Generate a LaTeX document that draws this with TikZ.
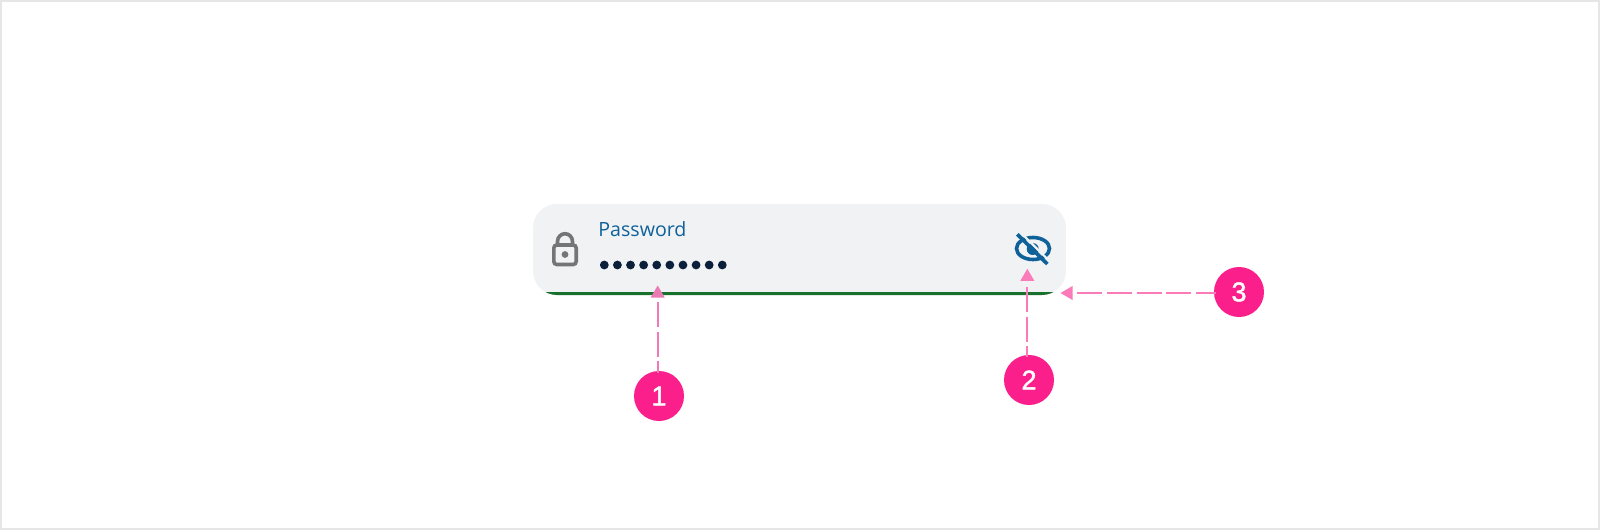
\documentclass[tikz,border=0pt]{standalone}
\usepackage{fontspec}
\setmainfont{Open Sans}
\newfontfamily\badgefont[FakeBold=1.6]{Liberation Sans}
\usetikzlibrary{shapes.geometric}
\definecolor{fieldgray}{HTML}{F0F2F4}
\definecolor{fieldgreen}{HTML}{17702B}
\definecolor{labelblue}{HTML}{0F6199}
\definecolor{dotnavy}{HTML}{0B1F3A}
\definecolor{lockgray}{HTML}{757575}
\definecolor{badgepink}{HTML}{FB1F8B}
\definecolor{linepink}{HTML}{FB7ABA}
\definecolor{edgegray}{HTML}{E6E6E6}
\tikzset{
  badge/.style={circle,fill=badgepink,minimum size=25pt,inner sep=0pt,text=white,font=\fontsize{13.5pt}{15pt}\badgefont},
  tipmark/.style={isosceles triangle,isosceles triangle stretches,fill=#1,inner sep=0pt,minimum width=7pt,minimum height=6pt},
  tipmark/.default=linepink,
  conn/.style={draw=#1,line width=1.15pt,dash pattern=on 12.5pt off 2.3pt,shorten >=-1pt},
  conn/.default=linepink,
  pwdot/.style={circle,fill=dotnavy,minimum size=4.4pt,inner sep=0pt},
  iconline/.style={line width=1.8pt,draw=#1}
}
\begin{document}
\begin{tikzpicture}[x=0.5pt,y=-0.5pt]
\useasboundingbox (0,0) rectangle (1600,530);
\fill[white] (0,0) rectangle (1600,530);
\draw[edgegray,line width=1pt] (1,1) rectangle (1599,529);
% field
\begin{scope}
  \clip[rounded corners=12pt] (533,204) rectangle (1066,295);
  \fill[fieldgray] (533,204) rectangle (1066,295);
  \fill[fieldgreen] (533,292) rectangle (1066,295.5);
\end{scope}
% label
\node[anchor=base west,inner sep=0pt,text=labelblue,font=\fontsize{9.8pt}{11pt}\selectfont] (label) at (598,236) {Password};
% dots
\foreach \i in {0,...,9} {
  \node[pwdot] (dot\i) at ({604.3+13.11*\i},265) {};
}
% lock
\draw[iconline=lockgray,rounded corners=1.5pt] (553.8,245) rectangle (576.2,264.5);
\draw[iconline=lockgray] (557.5,245) -- (557.5,241.5) arc[start angle=180,end angle=0,x radius=7.5,y radius=-7.8] -- (572.5,245);
\fill[lockgray] (565,254.5) circle[radius=1.7pt];
% eye
\draw[iconline=labelblue] (1033,248.5) ellipse[x radius=16.5,y radius=11];
\fill[labelblue] (1032.7,249) circle[radius=3pt];
\draw[fieldgray,line width=1.1pt] (1021,233) -- (1051,262.5);
\draw[iconline=labelblue] (1017.3,234.3) -- (1047.3,264);
% connectors
\coordinate (s1) at (657.7,302);
\coordinate (s2) at (1027.3,287);
\coordinate (s3) at (1077.3,293);
\node[badge] (b1) at (659,396) {1};
\node[badge] (b2) at (1029,380) {2};
\node[badge] (b3) at (1239,292) {3};
\draw[conn={linepink!92!gray}] (s1) -- (s1 |- b1.north);
\draw[conn] (s2) -- (s2 |- b2.north);
\draw[conn] (s3) -- (s3 -| b3.west);
\node[tipmark={linepink!85!gray},shape border rotate=90] (t1) at (657.7,293.5) {};
\node[tipmark,shape border rotate=90] (t2) at (1027.3,276.8) {};
\node[tipmark,shape border rotate=180] (t3) at (1068.5,293) {};
\end{tikzpicture}
\end{document}
